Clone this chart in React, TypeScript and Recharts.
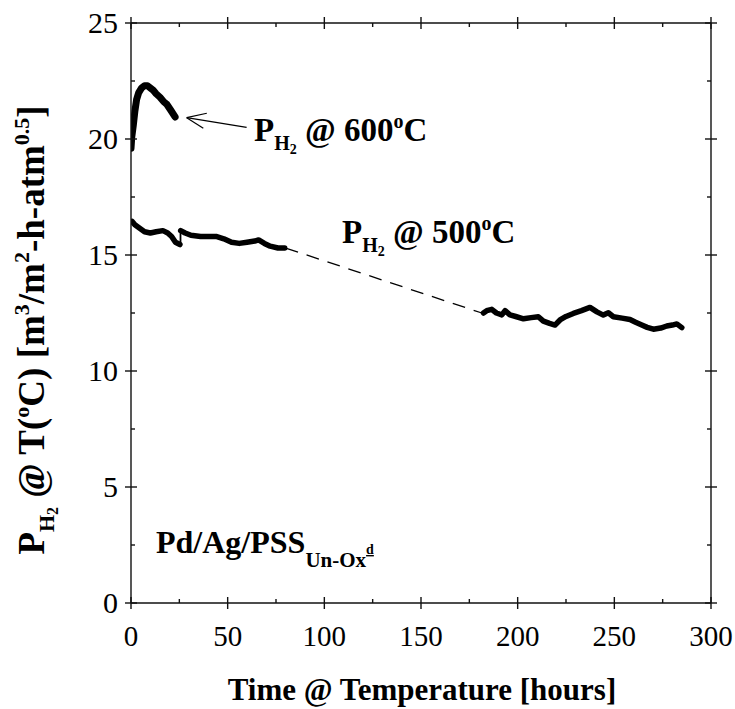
import React from 'react';
import { ComposedChart, Line, XAxis, YAxis, ReferenceLine } from 'recharts';

const FONT = "'Liberation Serif', 'Times New Roman', Times, serif";

// tick values
const xTicks = [0, 25, 50, 75, 100, 125, 150, 175, 200, 225, 250, 275, 300];
const yTicks = [0, 2.5, 5, 7.5, 10, 12.5, 15, 17.5, 20, 22.5, 25];

// P_H2 @ 600 C
const p600 = [
  { h: 0, v: 19.6 }, { h: 0.4, v: 20.1 }, { h: 1.2, v: 20.6 }, { h: 2, v: 21.2 },
  { h: 2.9, v: 21.7 }, { h: 4, v: 22.0 }, { h: 5.5, v: 22.2 }, { h: 7, v: 22.3 },
  { h: 8.5, v: 22.3 }, { h: 10, v: 22.2 }, { h: 11.5, v: 22.1 }, { h: 13, v: 21.95 },
  { h: 15, v: 21.8 }, { h: 17, v: 21.6 }, { h: 18.5, v: 21.5 }, { h: 20.5, v: 21.25 },
  { h: 22.8, v: 20.95 },
];

// P_H2 @ 500 C, first part
const p500a = [
  { h: 0.5, v: 16.45 }, { h: 2, v: 16.3 }, { h: 4.5, v: 16.15 }, { h: 7, v: 16.0 },
  { h: 10, v: 15.95 }, { h: 13, v: 16.0 }, { h: 16.5, v: 16.05 }, { h: 19, v: 15.95 },
  { h: 21, v: 15.8 }, { h: 23, v: 15.55 }, { h: 25.3, v: 15.45 },
];
const p500jump = [{ h: 25.6, v: 15.45 }, { h: 25.6, v: 16.1 }];
const p500b = [
  { h: 25.7, v: 16.05 }, { h: 28, v: 15.95 }, { h: 31, v: 15.85 }, { h: 36, v: 15.8 },
  { h: 40, v: 15.8 }, { h: 44, v: 15.8 }, { h: 48, v: 15.7 }, { h: 52, v: 15.55 },
  { h: 56, v: 15.5 }, { h: 60, v: 15.55 }, { h: 64, v: 15.6 }, { h: 66, v: 15.65 },
  { h: 69, v: 15.5 }, { h: 72, v: 15.38 }, { h: 76, v: 15.3 }, { h: 79.5, v: 15.3 },
];
const p500gap = [{ h: 80, v: 15.3 }, { h: 181.5, v: 12.5 }];
const p500c = [
  { h: 182.3, v: 12.5 }, { h: 184, v: 12.6 }, { h: 186.6, v: 12.66 }, { h: 189, v: 12.5 },
  { h: 191.8, v: 12.42 }, { h: 193.5, v: 12.6 }, { h: 196, v: 12.42 }, { h: 199, v: 12.35 },
  { h: 203, v: 12.25 }, { h: 207, v: 12.3 }, { h: 210.7, v: 12.34 }, { h: 213.3, v: 12.15 },
  { h: 216.5, v: 12.05 }, { h: 219.3, v: 11.98 }, { h: 221.9, v: 12.2 }, { h: 225, v: 12.35 },
  { h: 228.8, v: 12.48 }, { h: 233, v: 12.6 }, { h: 237.4, v: 12.74 }, { h: 241, v: 12.55 },
  { h: 244.3, v: 12.41 }, { h: 246.9, v: 12.51 }, { h: 249.5, v: 12.34 }, { h: 254, v: 12.28 },
  { h: 258.1, v: 12.22 }, { h: 261, v: 12.1 }, { h: 264.2, v: 11.98 }, { h: 267, v: 11.88 },
  { h: 270.2, v: 11.8 }, { h: 274, v: 11.85 }, { h: 277.1, v: 11.94 }, { h: 280, v: 11.98 },
  { h: 282.3, v: 12.03 }, { h: 284.9, v: 11.87 },
];

// annotation arrow (data coordinates)
const arrowTail = { x: 59.8, y: 20.5 };
const arrowTip = { x: 28.8, y: 20.92 };
const arrowBarbA = { x: 39.2, y: 21.11 };
const arrowBarbB = { x: 37.4, y: 20.46 };

const AX = '#111';
const AXW = 1.4;

const isMajor = (v: number, step: number) => Math.abs(v / step - Math.round(v / step)) < 1e-6;

const BottomTick = (props: any) => {
  const { x, y, payload } = props;
  const major = isMajor(payload.value, 50);
  return (
    <g>
      {major ? (
        <line x1={x} x2={x} y1={y - 6} y2={y + 6} stroke={AX} strokeWidth={AXW} />
      ) : (
        <line x1={x} x2={x} y1={y - 4} y2={y} stroke={AX} strokeWidth={AXW} />
      )}
      {major && (
        <text x={x} y={y + 43} textAnchor="middle" fontSize={29} fontFamily={FONT} fill="#000">
          {payload.value}
        </text>
      )}
    </g>
  );
};

const TopTick = (props: any) => {
  const { x, y, payload } = props;
  const major = isMajor(payload.value, 50);
  return major ? (
    <line x1={x} x2={x} y1={y - 6} y2={y + 6} stroke={AX} strokeWidth={AXW} />
  ) : (
    <line x1={x} x2={x} y1={y} y2={y + 4} stroke={AX} strokeWidth={AXW} />
  );
};

const LeftTick = (props: any) => {
  const { x, y, payload } = props;
  const major = isMajor(payload.value, 5);
  return (
    <g>
      {major ? (
        <line x1={x - 6} x2={x + 6} y1={y} y2={y} stroke={AX} strokeWidth={AXW} />
      ) : (
        <line x1={x} x2={x + 4} y1={y} y2={y} stroke={AX} strokeWidth={AXW} />
      )}
      {major && (
        <text x={x - 13} y={y + 10} textAnchor="end" fontSize={30} fontFamily={FONT} fill="#000">
          {payload.value}
        </text>
      )}
    </g>
  );
};

const RightTick = (props: any) => {
  const { x, y, payload } = props;
  const major = isMajor(payload.value, 5);
  return major ? (
    <line x1={x - 6} x2={x + 6} y1={y} y2={y} stroke={AX} strokeWidth={AXW} />
  ) : (
    <line x1={x - 4} x2={x} y1={y} y2={y} stroke={AX} strokeWidth={AXW} />
  );
};

const thick = {
  stroke: '#000',
  dot: false as const,
  isAnimationActive: false,
  strokeLinecap: 'round' as const,
  strokeLinejoin: 'round' as const,
  type: 'linear' as const,
  dataKey: 'v',
  activeDot: false as const,
};

export default function App() {
  return (
    <div style={{ position: 'absolute', left: 0, top: 0, width: 735, height: 709, background: '#fff' }}>
      <ComposedChart width={735} height={709} margin={{ top: 22, right: 23, bottom: 0, left: 0 }}>
        <XAxis
          dataKey="h"
          type="number"
          domain={[0, 300]}
          ticks={xTicks}
          interval={0}
          allowDataOverflow
          height={106}
          tickSize={0}
          tickMargin={0}
          tickLine={false}
          axisLine={{ stroke: AX, strokeWidth: AXW }}
          tick={(p: any) => <BottomTick {...p} />}
        />
        <XAxis
          xAxisId="t"
          orientation="top"
          dataKey="h"
          type="number"
          domain={[0, 300]}
          ticks={xTicks}
          interval={0}
          allowDataOverflow
          height={1}
          tickSize={0}
          tickMargin={0}
          tickLine={false}
          axisLine={{ stroke: AX, strokeWidth: AXW }}
          tick={(p: any) => <TopTick {...p} />}
        />
        <YAxis
          type="number"
          domain={[0, 25]}
          ticks={yTicks}
          interval={0}
          allowDataOverflow
          width={131}
          tickSize={0}
          tickMargin={0}
          tickLine={false}
          axisLine={{ stroke: AX, strokeWidth: AXW }}
          tick={(p: any) => <LeftTick {...p} />}
        />
        <YAxis
          yAxisId="r"
          orientation="right"
          type="number"
          domain={[0, 25]}
          ticks={yTicks}
          interval={0}
          allowDataOverflow
          width={1}
          tickSize={0}
          tickMargin={0}
          tickLine={false}
          axisLine={{ stroke: AX, strokeWidth: AXW }}
          tick={(p: any) => <RightTick {...p} />}
        />

        <Line {...thick} data={p600} strokeWidth={7} />
        <Line {...thick} data={p500a} strokeWidth={5.5} />
        <Line {...thick} data={p500jump} strokeWidth={1.8} strokeLinecap="butt" />
        <Line {...thick} data={p500b} strokeWidth={5.5} />
        <Line {...thick} data={p500gap} xAxisId="t" yAxisId="r" strokeWidth={1.3} strokeDasharray="13 9" strokeLinecap="butt" />
        <Line {...thick} data={p500c} xAxisId="t" yAxisId="r" strokeWidth={5.5} />

        <ReferenceLine segment={[arrowTail, arrowTip]} stroke="#000" strokeWidth={1.2} ifOverflow="visible" />
        <ReferenceLine segment={[arrowTip, arrowBarbA]} stroke="#000" strokeWidth={1.2} ifOverflow="visible" />
        <ReferenceLine segment={[arrowTip, arrowBarbB]} stroke="#000" strokeWidth={1.2} ifOverflow="visible" />
      </ComposedChart>

      <svg
        width={735}
        height={709}
        style={{ position: 'absolute', left: 0, top: 0, pointerEvents: 'none' }}
        fontFamily={FONT}
        fontWeight="bold"
        fill="#000"
      >
        {/* 600 C label */}
        <text x={254} y={141} fontSize={33}>
          <tspan>P</tspan>
          <tspan fontSize={20} dy={9}>H</tspan>
          <tspan fontSize={14} dy={4}>2</tspan>
          <tspan fontSize={33} dy={-13}>{' @ 600'}</tspan>
          <tspan fontSize={20} dy={-13}>o</tspan>
          <tspan fontSize={33} dy={13}>C</tspan>
        </text>
        {/* 500 C label */}
        <text x={342} y={243} fontSize={33}>
          <tspan>P</tspan>
          <tspan fontSize={20} dy={9}>H</tspan>
          <tspan fontSize={14} dy={4}>2</tspan>
          <tspan fontSize={33} dy={-13}>{' @ 500'}</tspan>
          <tspan fontSize={20} dy={-13}>o</tspan>
          <tspan fontSize={33} dy={13}>C</tspan>
        </text>
        {/* membrane label */}
        <text x={156} y={553} fontSize={32}>
          <tspan>Pd/Ag/PSS</tspan>
          <tspan fontSize={21} dy={14}>Un-Ox</tspan>
          <tspan fontSize={14} dy={-13} style={{ textDecoration: 'underline' }}>d</tspan>
        </text>
        {/* x axis title */}
        <text x={422} y={700} fontSize={31} textAnchor="middle">Time @ Temperature [hours]</text>
        {/* y axis title */}
        <text transform="translate(44,330) rotate(-90)" fontSize={37} textAnchor="middle">
          <tspan>P</tspan>
          <tspan fontSize={22} dy={10}>H</tspan>
          <tspan fontSize={16} dy={4}>2</tspan>
          <tspan fontSize={37} dy={-14}>{' @ T('}</tspan>
          <tspan fontSize={22} dy={-15}>o</tspan>
          <tspan fontSize={37} dy={15}>{'C) [m'}</tspan>
          <tspan fontSize={22} dy={-15}>3</tspan>
          <tspan fontSize={37} dy={15}>/m</tspan>
          <tspan fontSize={22} dy={-15}>2</tspan>
          <tspan fontSize={37} dy={15}>-h-atm</tspan>
          <tspan fontSize={22} dy={-15}>0.5</tspan>
          <tspan fontSize={37} dy={15}>]</tspan>
        </text>
      </svg>
    </div>
  );
}
